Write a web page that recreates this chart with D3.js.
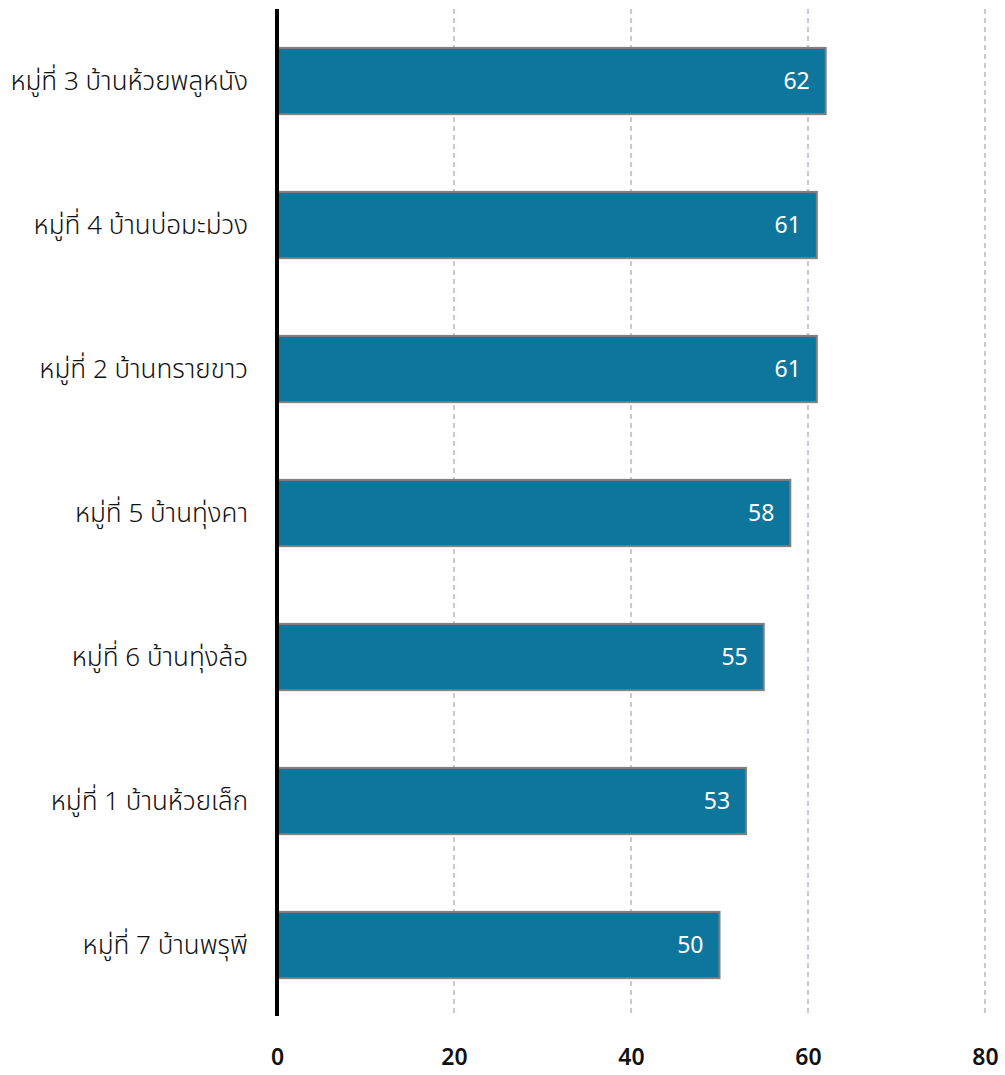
<!DOCTYPE html>
<html><head><meta charset="utf-8">
<script src="https://cdn.jsdelivr.net/npm/d3@7"></script>
<style>body{margin:0;background:#fff}svg{display:block;font-family:"Noto Sans","DejaVu Sans",sans-serif}</style>
</head><body><svg id="c" width="1005" height="1075"></svg>
<script>
const categories = ["หมู่ที่ 3 บ้านห้วยพลูหนัง","หมู่ที่ 4 บ้านบ่อมะม่วง","หมู่ที่ 2 บ้านทรายขาว","หมู่ที่ 5 บ้านทุ่งคา","หมู่ที่ 6 บ้านทุ่งล้อ","หมู่ที่ 1 บ้านห้วยเล็ก","หมู่ที่ 7 บ้านพรุพี"];
const values = [62,61,61,58,55,53,50];
const ticks = [0,20,40,60,80];

const svg = d3.select("#c");
const x = d3.scaleLinear().domain([0,80]).range([277,985]);
const y = d3.scaleBand().domain(categories).range([9,1017]).paddingInner(0.54).paddingOuter(0.27);

// gridlines
svg.append("g").selectAll("line").data(ticks.filter(t=>t>0)).join("line")
  .attr("x1",d=>x(d)).attr("x2",d=>x(d)).attr("y1",9).attr("y2",1015)
  .attr("stroke","#8f95ad").attr("stroke-width",1).attr("stroke-dasharray","5,4");

// bars
svg.append("g").selectAll("rect").data(values).join("rect")
  .attr("x",x(0)).attr("y",(d,i)=>y(categories[i]))
  .attr("width",d=>x(d)-x(0)).attr("height",y.bandwidth())
  .attr("fill","#0e769c").attr("stroke","#7f7f7f").attr("stroke-width",2);

// value labels
svg.append("g").selectAll("text").data(values).join("text")
  .attr("x",d=>x(d)-16).attr("y",(d,i)=>y(categories[i])+y.bandwidth()/2)
  .attr("dy","0.36em").attr("text-anchor","end").attr("fill","#fff")
  .attr("font-size",23).text(d=>d);

// y axis labels
svg.append("g").selectAll("text").data(categories).join("text")
  .attr("x",248).attr("y",d=>y(d)+y.bandwidth()/2).attr("dy","0.36em")
  .attr("text-anchor","end").attr("fill","#111").attr("font-size",26)
  .attr("font-family","'Noto Sans Thai','Noto Sans Thai Looped','Noto Sans',sans-serif")
  .attr("font-weight",300).text(d=>d);

// y axis line
svg.append("line").attr("x1",x(0)).attr("x2",x(0)).attr("y1",9).attr("y2",1016)
  .attr("stroke","#000").attr("stroke-width",4);

// x axis tick labels
const xa = d3.axisBottom(x).tickValues(ticks).tickSize(0).tickPadding(0);
const g = svg.append("g").attr("transform","translate(0,1049)").call(xa);
g.select(".domain").remove();
g.selectAll("text").attr("font-size",23).attr("font-weight",600).attr("fill","#111")
  .attr("font-family","'Noto Sans','DejaVu Sans',sans-serif");
</script></body></html>
